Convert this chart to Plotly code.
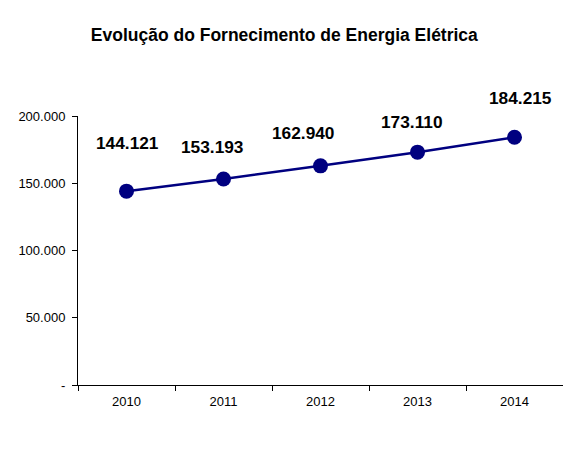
import plotly.graph_objects as go

years = ["2010", "2011", "2012", "2013", "2014"]
values = [144121, 153193, 162940, 173110, 184215]
labels = ["144.121", "153.193", "162.940", "173.110", "184.215"]
ytick_vals = [0, 50000, 100000, 150000, 200000]
ytick_text = ["-", "50.000", "100.000", "150.000", "200.000"]

# label offsets (pixels) mimicking the original label placement
label_dx = [1, -12, -18, -6, 6]
label_dy = [48, 32, 33, 30, 39]

fig = go.Figure()
fig.add_trace(go.Scatter(
    x=years, y=values, mode="lines+markers",
    line=dict(color="#000080", width=2.5),
    marker=dict(color="#000080", size=15),
    hoverinfo="skip", showlegend=False,
))

for i, (y, t, dx, dy) in enumerate(zip(values, labels, label_dx, label_dy)):
    fig.add_annotation(x=i, y=y, xref="x", yref="y", text=f"<b>{t}</b>", showarrow=False,
                       xshift=dx, yshift=dy,
                       font=dict(family="Liberation Sans, Arial", size=17.3, color="#000000"))

fig.update_layout(
    width=563, height=461,
    margin=dict(l=78, r=0, t=116, b=76),
    paper_bgcolor="white", plot_bgcolor="white",
    title=dict(text="<b>Evolução do Fornecimento de Energia Elétrica</b>",
               x=0.505, xanchor="center", y=0.924, yanchor="middle",
               font=dict(family="Liberation Sans, Arial", size=17.5, color="#000000")),
    font=dict(family="Liberation Sans, Arial", color="#000000"),
)
fig.update_xaxes(type="category", range=[-0.5, 4.5], showline=True, linecolor="#000000",
                 linewidth=1, ticks="outside", tickson="boundaries", ticklen=5,
                 tickcolor="#000000", showgrid=False, zeroline=False,
                 ticklabelstandoff=4,
                 tickfont=dict(size=13, color="#000000"))
fig.update_yaxes(range=[0, 200000], tickvals=ytick_vals, ticktext=ytick_text,
                 showline=True, linecolor="#000000", linewidth=1, ticks="outside",
                 ticklen=5, tickcolor="#000000", showgrid=False, zeroline=False,
                 ticklabelstandoff=4,
                 tickfont=dict(size=13, color="#000000"))

fig.write_html("out.html", config={"displayModeBar": False},
               post_script="document.body.style.margin='0';document.body.style.overflow='hidden';")
